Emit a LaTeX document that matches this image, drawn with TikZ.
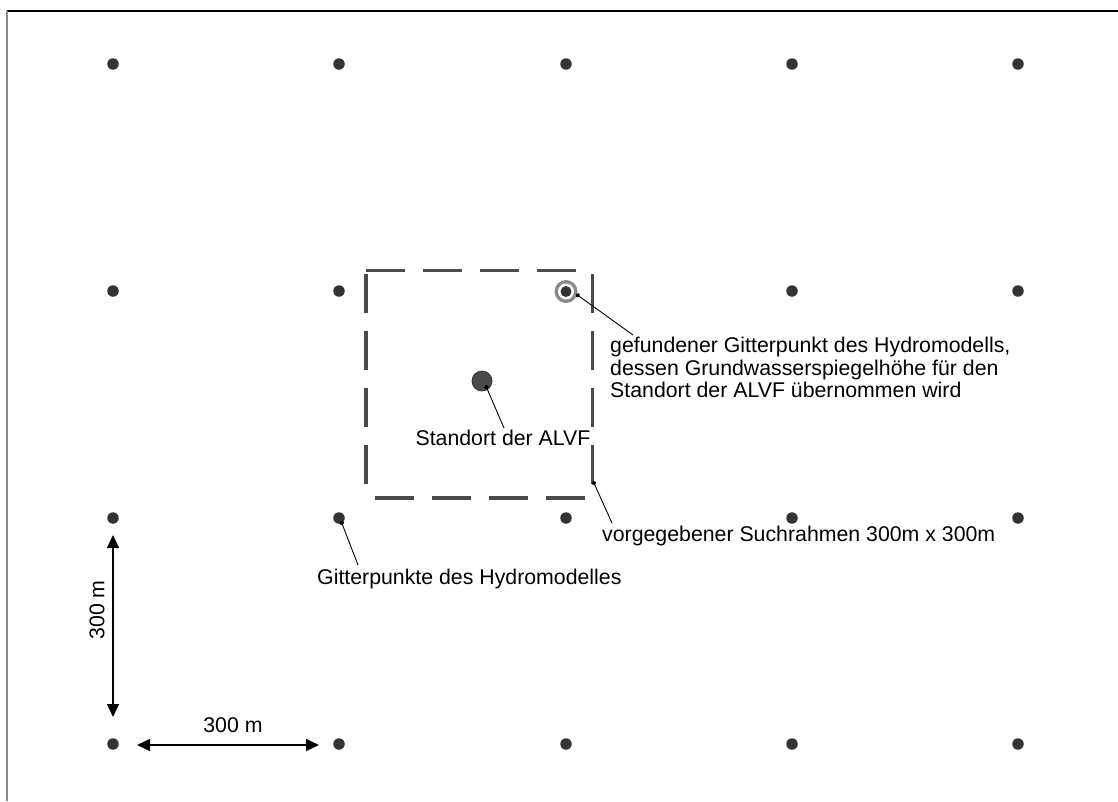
\documentclass[tikz,border=0pt]{standalone}
\usepackage{fontspec}
\setmainfont{Liberation Sans}
\usetikzlibrary{arrows.meta}
\definecolor{dotc}{HTML}{333333}
\definecolor{framec}{HTML}{4A4A4A}
\definecolor{ringc}{HTML}{8A8A8A}
\begin{document}
\begin{tikzpicture}[x=1pt,y=-1pt,
  gridpt/.style={circle,fill=dotc,draw=none,minimum size=11.5pt,inner sep=0pt},
  lbl/.style={inner sep=0pt,font=\fontsize{21.3}{22.5}\selectfont},
  leader/.style={line width=0.9pt,{Circle[length=4.5pt]}-},
  dimarrow/.style={line width=1.3pt,{Triangle[length=13pt,width=12pt]}-{Triangle[length=13pt,width=12pt]}},
  searchedge/.style={line width=3.5pt,draw=framec,dash pattern=on 39pt off 18pt}
]
\useasboundingbox (0,0) rectangle (1118,801);
% outer frame (top and left only)
\draw[line width=1.3pt,black] (7,11) -- (1118,11);
\draw[line width=2pt,ringc] (7,11) -- (7,801);
% grid points
\foreach \i/\x in {0/113,1/339,2/566,3/792,4/1018}{
  \foreach \j/\y in {0/64,1/291,2/518,3/744}{
    \node[gridpt] (g-\i-\j) at (\x,\y) {};
  }
}
% search frame
\draw[searchedge] (366,270.5) -- (578,270.5);
\draw[searchedge] (366,274) -- (366,488);
\draw[searchedge] (592.5,274) -- (592.5,486);
\draw[searchedge] (375,498) -- (586,498);
% found grid point ring
\node[circle,fill=ringc,minimum size=23pt,inner sep=0pt] (found) at (566,291.5) {};
\node[circle,fill=white,minimum size=16pt,inner sep=0pt] at (found) {};
\node[circle,fill=dotc,minimum size=11pt,inner sep=0pt] at (found) {};
% site
\node[circle,fill=framec,draw=dotc,line width=0.8pt,minimum size=20pt,inner sep=0pt] (site) at (482,381) {};
% labels
\node[lbl,anchor=base] (tsite) at (503,445) {Standort der ALVF};
\node[lbl,anchor=north west,align=left] (tfound) at (610,337)
  {gefundener Gitterpunkt des Hydromodells,\\dessen Grundwasserspiegelh\"ohe f\"ur den\\Standort der ALVF \"ubernommen wird};
\node[lbl,anchor=base west] (tframe) at (602,541) {vorgegebener Suchrahmen 300m x 300m};
\node[lbl,anchor=base west] (tgrid) at (317,584) {Gitterpunkte des Hydromodelles};
% leader lines
\coordinate (cfound) at (576,294);
\coordinate (efound) at (633,335);
\draw[leader] (cfound) -- (efound);
\coordinate (csite) at (485.5,385);
\coordinate (esite) at (504,428);
\draw[leader] (csite) -- (esite);
\coordinate (cframe) at (593,481);
\coordinate (eframe) at (612,523);
\draw[leader] (cframe) -- (eframe);
\coordinate (cgrid) at (341,521);
\coordinate (egrid) at (358,565);
\draw[leader] (cgrid) -- (egrid);
% dimension arrows
\coordinate (vtop) at (113,535);
\coordinate (vbot) at (113,717);
\draw[dimarrow] (vtop) -- (vbot);
\coordinate (hl) at (137,745);
\coordinate (hr) at (319,745);
\draw[dimarrow] (hl) -- (hr);
\node[lbl,rotate=90] (tv) at (97,610) {300 m};
\node[lbl] (th) at (233,725) {300 m};
\end{tikzpicture}
\end{document}
